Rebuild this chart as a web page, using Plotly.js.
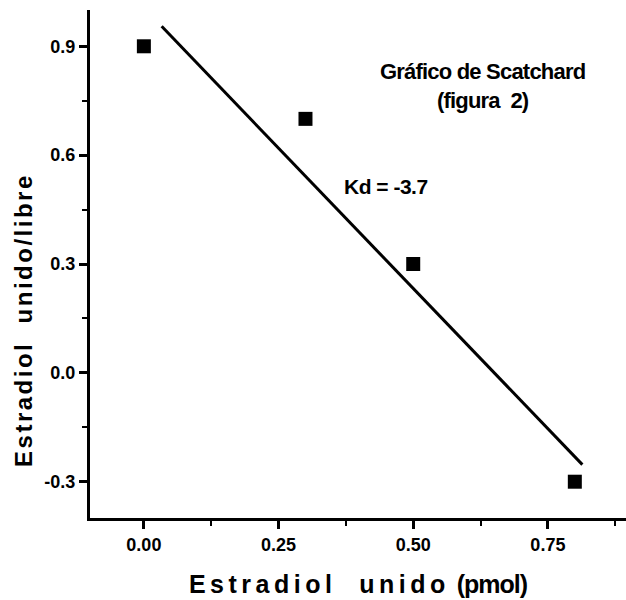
<!DOCTYPE html>
<html>
<head>
<meta charset="utf-8">
<script src="https://cdn.plot.ly/plotly-3.0.1.min.js"></script>
<style>html,body{margin:0;padding:0;background:#fff;}#chart{width:626px;height:600px;}</style>
</head>
<body>
<div id="chart"></div>
<script>
// Data points (Scatchard plot)
const boundX = [0.0, 0.3, 0.5, 0.8];
const ratioY = [0.9, 0.7, 0.3, -0.3];
// Fitted line endpoints
const fitX = [0.033, 0.814];
const fitY = [0.955, -0.253];
// Tick labels
const xTickVals = [0.0, 0.25, 0.5, 0.75];
const xTickText = ["0.00", "0.25", "0.50", "0.75"];
const yTickVals = [-0.3, 0.0, 0.3, 0.6, 0.9];
const yTickText = ["-0.3", "0.0", "0.3", "0.6", "0.9"];

const font = "Liberation Sans, Arial, sans-serif";

const traces = [
  {x: fitX, y: fitY, mode: 'lines', type: 'scatter',
   line: {color: '#000', width: 3}, hoverinfo: 'skip'},
  {x: boundX, y: ratioY, mode: 'markers', type: 'scatter',
   marker: {symbol: 'square', size: 14, color: '#000'}}
];

const layout = {
  width: 626, height: 600,
  margin: {l: 90, r: 0, t: 10, b: 82},
  paper_bgcolor: '#fff', plot_bgcolor: '#fff',
  showlegend: false,
  font: {family: font, color: '#000'},
  xaxis: {
    range: [-0.1, 0.895], showgrid: false, zeroline: false,
    showline: true, linecolor: '#000', linewidth: 3,
    ticks: 'outside', ticklen: 8, tickwidth: 3, tickcolor: '#000',
    tickvals: xTickVals, ticktext: xTickText,
    tickfont: {family: font, size: 18, color: '#000', weight: 'bold'},
    minor: {ticks: 'outside', ticklen: 5, tickwidth: 2, tickcolor: '#000', dtick: 0.125, tick0: 0},
    title: {text: '<b><span style="letter-spacing:4.5px">Estradiol&nbsp;&nbsp;unido</span> <span style="letter-spacing:-1px">(pmol)</span></b>',
            font: {family: font, size: 25, color: '#000'}, standoff: 22}
  },
  yaxis: {
    range: [-0.4, 1.0], showgrid: false, zeroline: false,
    showline: true, linecolor: '#000', linewidth: 3,
    ticks: 'outside', ticklen: 8, tickwidth: 3, tickcolor: '#000',
    tickvals: yTickVals, ticktext: yTickText,
    tickfont: {family: font, size: 18, color: '#000', weight: 'bold'},
    minor: {ticks: 'outside', ticklen: 5, tickwidth: 2, tickcolor: '#000', dtick: 0.15, tick0: 0}
  },
  annotations: [
    {x: -0.123, y: 0.39, xref: 'paper', yref: 'paper', xanchor: 'center', yanchor: 'middle',
     showarrow: false, textangle: -90,
     text: '<b><span style="letter-spacing:2.5px">Estradiol&nbsp;&nbsp;unido/libre</span></b>',
     font: {family: font, size: 24, color: '#000'}},
    {x: 0.628, y: 0.79, xref: 'x', yref: 'y', showarrow: false,
     text: '<b><span style="letter-spacing:-0.8px">Gráfico de Scatchard</span></b><br><b><span style="letter-spacing:-0.8px">(figura&nbsp;&nbsp;2)</span></b>',
     font: {family: font, size: 22, color: '#000'}, align: 'center'},
    {x: 0.45, y: 0.513, xref: 'x', yref: 'y', showarrow: false,
     text: '<b><span style="letter-spacing:-0.5px">Kd = -3.7</span></b>',
     font: {family: font, size: 21, color: '#000'}}
  ]
};

Plotly.newPlot('chart', traces, layout, {displayModeBar: false, staticPlot: true});
</script>
</body>
</html>
